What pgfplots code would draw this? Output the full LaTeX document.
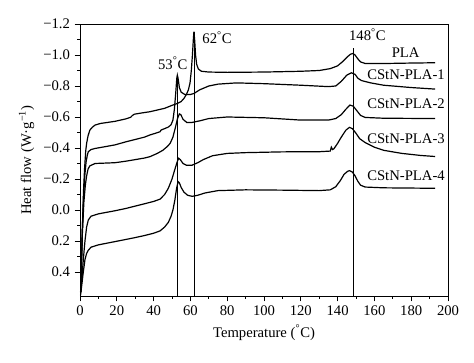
\documentclass[border=0pt]{standalone}
\usepackage{fontspec}
\setmainfont{Liberation Serif}
\usepackage{pgfplots}
\pgfplotsset{compat=1.18}
\begin{document}
\begin{tikzpicture}[curve/.style={black, line width=0.9pt, mark=none}]
\begin{axis}[name=ax, scale only axis, width=276pt, height=204pt,
 xmin=0, xmax=200, ymin=-1.2, ymax=0.555, y dir=reverse,
 xtick={0,20,...,200},
 ytick={-1.2,-1.0,-0.8,-0.6,-0.4,-0.2,0,0.2,0.4},
 yticklabels={−1.2,−1.0,−0.8,−0.6,−0.4,−0.2,0.0,0.2,0.4},
 minor x tick num=1, minor y tick num=1,
 tick align=outside, tick pos=left,
 major tick length=4pt, minor tick length=2pt,
 every tick/.style={black, line width=0.6pt},
 axis line style={line width=0.7pt},
 tick label style={font=\fontsize{11}{13}\selectfont},
 /pgf/number format/assume math mode=true,
 xlabel={Temperature (\textsuperscript{°}C)},
 ylabel={Heat flow (W·g\textsuperscript{−1})},
 label style={font=\fontsize{11}{13}\selectfont},
 clip=false,
]
% PLA
\addplot[curve] coordinates {(0.4,0.53) (1.2,0.15) (1.9,-0.12) (2.5,-0.27) (3.1,-0.38) (3.6,-0.43) (4.4,-0.48) (5.4,-0.516) (6.8,-0.535) (8.2,-0.548) (11,-0.558) (15,-0.565) (19,-0.572) (25,-0.588) (27.5,-0.598) (28.5,-0.61) (29.5,-0.618) (33,-0.625) (38,-0.634) (42,-0.645) (46,-0.656) (50,-0.675) (53,-0.688) (55,-0.70) (56.5,-0.72) (57.8,-0.745) (58.9,-0.775) (59.8,-0.82) (60.5,-0.90) (61.1,-1.0) (61.6,-1.10) (61.9,-1.15) (62.3,-1.10) (62.8,-1.0) (63.4,-0.94) (64.3,-0.91) (66,-0.895) (70,-0.89) (80,-0.888) (100,-0.89) (120,-0.895) (130,-0.90) (136,-0.912) (140,-0.93) (143,-0.96) (145.5,-0.99) (147,-1.005) (148.3,-1.01) (149.5,-1.0) (151,-0.975) (152.5,-0.955) (155,-0.945) (165,-0.945) (180,-0.948) (193,-0.95)};
% CStN-PLA-1
\addplot[curve] coordinates {(0.4,0.53) (1.2,0.15) (1.9,-0.08) (2.6,-0.22) (3.3,-0.31) (4,-0.355) (4.5,-0.376) (6,-0.39) (8.2,-0.397) (12,-0.405) (19,-0.42) (25,-0.44) (30,-0.455) (35,-0.47) (38,-0.484) (41,-0.495) (43.5,-0.505) (44,-0.515) (44.5,-0.518) (46,-0.525) (48,-0.535) (49.5,-0.55) (50.5,-0.58) (51.3,-0.65) (52,-0.75) (52.6,-0.85) (52.9,-0.87) (53.3,-0.85) (54,-0.79) (55,-0.76) (57,-0.745) (60,-0.745) (62,-0.752) (65,-0.775) (70,-0.80) (75,-0.812) (85,-0.82) (100,-0.815) (120,-0.805) (135,-0.796) (139,-0.80) (142,-0.83) (145,-0.87) (147.5,-0.885) (149.5,-0.875) (151,-0.85) (153,-0.835) (158,-0.82) (165,-0.805) (180,-0.79) (193,-0.78)};
% CStN-PLA-2
\addplot[curve] coordinates {(0.4,0.53) (1.3,0.15) (2.1,-0.05) (2.9,-0.16) (3.6,-0.22) (4.4,-0.265) (5.4,-0.285) (8.2,-0.30) (19,-0.305) (25,-0.315) (30,-0.325) (35,-0.335) (38,-0.344) (42,-0.365) (45,-0.385) (47.5,-0.41) (49,-0.43) (50.5,-0.47) (51.8,-0.53) (53,-0.59) (54,-0.62) (54.8,-0.615) (56,-0.585) (58,-0.565) (61,-0.565) (65,-0.575) (70,-0.59) (80,-0.60) (100,-0.595) (120,-0.58) (135,-0.58) (139,-0.59) (142,-0.615) (144.5,-0.65) (146.7,-0.677) (148.5,-0.67) (150.5,-0.64) (152.5,-0.61) (155,-0.597) (165,-0.592) (193,-0.59)};
% CStN-PLA-3
\addplot[curve] coordinates {(0.3,0.53) (1,0.45) (1.8,0.32) (2.7,0.20) (3.6,0.11) (4.5,0.065) (6,0.04) (10,0.025) (19,0.005) (25,-0.01) (30,-0.025) (35,-0.04) (40,-0.055) (43.5,-0.07) (46,-0.10) (48,-0.14) (50,-0.20) (51.5,-0.26) (52.8,-0.31) (53.6,-0.334) (54.5,-0.325) (56,-0.30) (58,-0.288) (60.7,-0.288) (64,-0.305) (67,-0.325) (72,-0.35) (80,-0.365) (90,-0.37) (110,-0.375) (130,-0.376) (136,-0.38) (136.6,-0.405) (137.2,-0.39) (138,-0.395) (140,-0.43) (142,-0.47) (144.5,-0.515) (146.4,-0.533) (148,-0.525) (150,-0.495) (152,-0.46) (155,-0.435) (160,-0.405) (165,-0.385) (175,-0.365) (185,-0.352) (193,-0.345)};
% CStN-PLA-4
\addplot[curve] coordinates {(0.3,0.55) (1,0.48) (1.8,0.40) (2.7,0.32) (3.6,0.28) (4.5,0.26) (6,0.24) (10,0.225) (19,0.204) (25,0.19) (30,0.178) (35,0.165) (40,0.15) (43.5,0.135) (46,0.11) (48,0.08) (49.5,0.04) (50.5,0.0) (51.5,-0.06) (52.5,-0.14) (53.3,-0.183) (54,-0.175) (55,-0.145) (56.5,-0.115) (58.5,-0.095) (61,-0.088) (64,-0.095) (68,-0.11) (75,-0.125) (90,-0.13) (110,-0.128) (130,-0.125) (136,-0.13) (139,-0.15) (141.5,-0.19) (143.5,-0.23) (145.5,-0.25) (146.5,-0.254) (148,-0.245) (149.5,-0.22) (151,-0.185) (152.5,-0.16) (155,-0.148) (165,-0.143) (193,-0.14)};
% vertical marker lines
\addplot[black, line width=0.7pt, mark=none] coordinates {(53,0.555) (53,-0.87)};
\addplot[black, line width=0.7pt, mark=none] coordinates {(62,0.555) (62,-1.15)};
\addplot[black, line width=0.7pt, mark=none] coordinates {(148.8,0.555) (148.8,-1.045)};
\node[font=\fontsize{11}{13}\selectfont] at (axis cs:50.4,-0.948) {53\textsuperscript{°}C};
\node[font=\fontsize{11}{13}\selectfont] at (axis cs:74.5,-1.11) {62\textsuperscript{°}C};
\node[font=\fontsize{11}{13}\selectfont] at (axis cs:156.2,-1.13) {148\textsuperscript{°}C};
\node[font=\fontsize{11}{13}\selectfont] at (axis cs:177,-1.013) {PLA};
\node[font=\fontsize{11}{13}\selectfont, anchor=west, inner sep=0pt] at (axis cs:156,-0.871) {CStN-PLA-1};
\node[font=\fontsize{11}{13}\selectfont, anchor=west, inner sep=0pt] at (axis cs:156,-0.684) {CStN-PLA-2};
\node[font=\fontsize{11}{13}\selectfont, anchor=west, inner sep=0pt] at (axis cs:156,-0.458) {CStN-PLA-3};
\node[font=\fontsize{11}{13}\selectfont, anchor=west, inner sep=0pt] at (axis cs:156,-0.221) {CStN-PLA-4};
\end{axis}
\path (ax.south west) ++(-60pt,-50.25pt) coordinate (bl);
\path (ax.north east) ++(19.5pt,18pt) coordinate (tr);
\path (bl) rectangle (tr);
\end{tikzpicture}
\end{document}
